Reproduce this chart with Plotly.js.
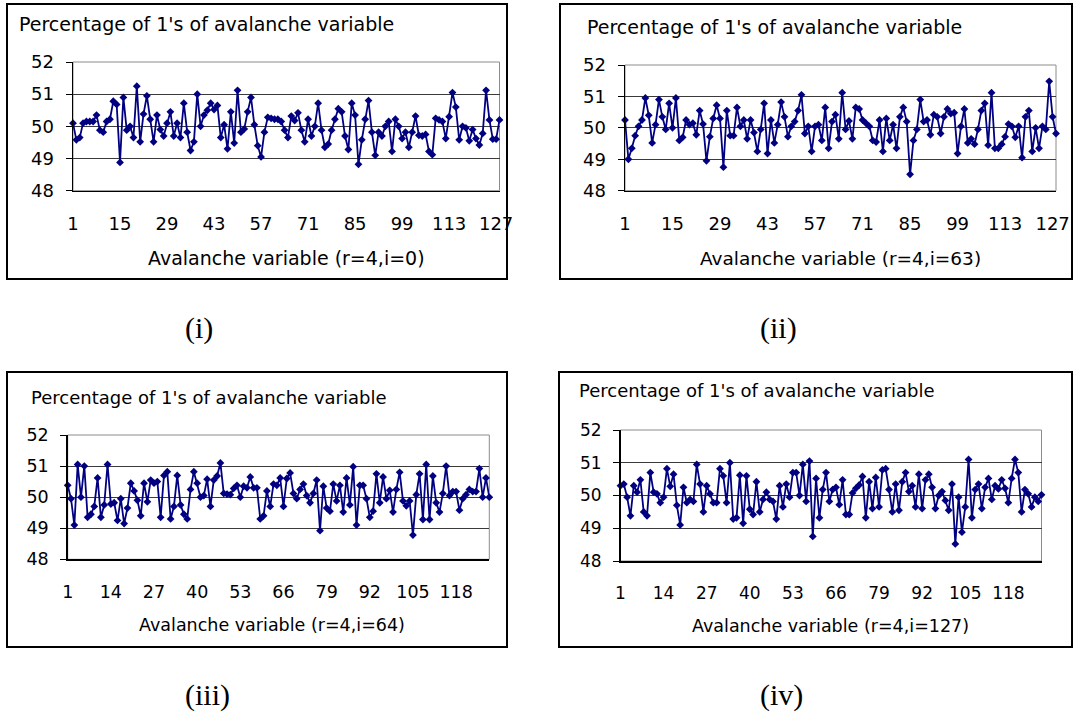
<!DOCTYPE html>
<html><head><meta charset="utf-8">
<script src="https://cdn.plot.ly/plotly-3.0.1.min.js"></script>
<style>html,body{margin:0;padding:0;background:#fff;}#chart{width:1075px;height:713px;}</style>
</head><body><div id="chart"></div>
<script>
// ---- data (percentage of 1's per avalanche variable, 128 variables each) ----
const seriesI = [50.1,49.58,49.65,50.1,50.15,50.15,50.15,50.35,49.88,49.82,
 50.15,50.22,50.78,50.68,48.88,50.9,49.88,50.0,49.65,51.25,
 49.52,50.38,50.95,50.22,49.52,50.35,49.9,49.7,50.1,50.45,
 49.7,50.1,49.65,50.72,49.82,49.25,49.52,51.0,50.0,50.35,
 50.5,50.72,50.52,50.65,49.65,50.05,49.3,50.45,49.48,51.12,
 49.82,49.92,50.45,50.9,50.05,49.4,49.05,49.82,50.28,50.25,
 50.22,50.22,50.15,49.88,49.65,50.32,50.18,50.42,49.88,49.52,
 50.22,49.7,50.0,50.72,49.88,49.35,49.45,49.88,50.22,50.55,
 50.45,49.7,49.28,50.72,50.35,48.82,49.58,50.22,50.8,49.82,
 49.1,49.82,49.7,50.0,50.15,49.22,50.22,50.0,49.62,49.82,
 49.35,49.82,50.32,49.72,49.7,49.75,49.22,49.12,50.25,50.2,
 50.15,49.62,50.3,51.05,50.6,49.58,50.0,49.95,49.55,49.9,
 49.62,49.42,49.78,51.12,50.2,49.6,49.6,50.2];
const seriesII = [50.25,49.0,49.35,49.75,50.05,50.25,50.95,50.4,49.52,50.1,
 50.9,50.35,49.95,50.78,50.0,50.95,49.6,49.7,50.25,50.1,
 50.15,49.78,50.55,50.12,48.95,49.72,50.3,50.72,50.3,48.75,
 50.55,49.75,49.75,50.65,50.05,50.25,49.65,50.25,49.85,49.25,
 49.95,50.78,49.18,50.25,49.52,50.1,50.82,50.35,49.72,50.05,
 50.2,50.55,51.05,49.82,50.05,49.25,50.05,50.1,49.6,50.65,
 49.35,50.2,50.42,49.65,51.12,49.95,50.22,49.65,50.65,50.6,
 50.25,50.15,50.05,49.6,49.55,50.25,49.25,50.3,49.6,50.1,
 49.35,50.35,50.65,50.2,48.52,49.6,49.95,50.9,50.2,50.25,
 49.78,50.42,50.35,49.82,50.35,50.6,50.45,50.48,49.18,50.05,
 50.6,49.52,49.65,49.48,49.95,50.55,50.78,49.45,51.12,49.35,
 49.35,49.48,49.72,50.12,50.05,49.7,50.05,49.05,50.35,50.55,
 49.25,50.0,49.35,50.05,49.95,51.48,50.35,49.82];
const seriesIII = [50.38,49.95,49.1,51.05,50.0,51.0,49.35,49.45,49.7,50.62,
 49.35,49.75,51.05,49.78,49.82,49.25,49.95,49.15,49.65,50.45,
 50.2,49.9,49.4,50.45,49.85,50.55,50.45,50.5,49.35,50.7,
 50.82,49.3,49.7,50.7,49.75,49.45,49.3,50.25,50.82,50.45,
 50.0,50.05,50.58,49.7,50.55,50.68,51.1,50.12,50.1,50.08,
 50.28,50.38,50.0,50.35,50.3,50.65,50.3,50.3,49.3,49.4,
 50.2,49.7,50.42,50.38,50.62,49.7,50.6,50.78,50.12,49.95,
 50.25,50.42,50.05,49.82,50.12,50.55,48.92,50.35,49.65,49.55,
 50.42,49.88,50.38,49.52,50.62,49.75,50.98,49.1,50.38,50.38,
 49.95,49.35,49.55,50.75,49.82,50.65,49.95,50.22,49.52,50.25,
 50.8,49.88,49.72,49.88,48.78,50.08,50.75,49.28,51.05,49.28,
 50.68,49.82,49.52,50.12,51.0,50.05,50.18,50.18,49.58,49.95,
 50.08,50.25,50.18,50.18,50.92,50.0,50.62,50.0];
const seriesIV = [50.3,50.35,49.95,49.38,50.3,50.1,50.48,49.5,49.38,50.7,
 50.1,50.05,49.78,49.95,50.82,50.28,50.65,49.7,49.1,50.25,
 49.78,49.88,49.82,50.95,50.35,49.5,50.3,50.05,49.78,49.78,
 50.82,50.6,49.78,51.0,49.28,49.32,50.62,49.15,50.6,49.58,
 49.42,50.42,49.5,49.88,50.1,49.88,49.82,49.28,50.3,49.65,
 50.35,49.95,50.7,50.7,50.0,50.95,49.82,51.05,48.75,50.52,
 49.32,50.18,50.7,49.82,50.18,50.25,49.72,50.48,49.42,49.42,
 50.08,50.22,50.32,50.58,49.32,50.42,49.6,50.55,49.65,50.78,
 50.82,50.18,49.5,50.35,49.55,50.42,50.7,50.12,50.3,49.65,
 50.65,49.6,50.48,50.65,50.25,49.6,50.0,50.12,49.85,49.55,
 50.35,48.52,49.95,48.88,49.65,51.1,49.32,50.18,50.35,49.6,
 50.25,50.52,49.88,50.3,50.2,50.48,50.22,49.78,50.52,51.1,
 50.7,49.5,50.18,50.05,49.65,49.95,49.82,50.02];

const tickValsA = [1,15,29,43,57,71,85,99,113,127];
const tickValsB = [1,14,27,40,53,66,79,92,105,118];
const yTickVals = [48,49,50,51,52];
const chartTitle = "Percentage of 1's of avalanche variable";
const xTitles = ["Avalanche variable (r=4,i=0)","Avalanche variable (r=4,i=63)",
                 "Avalanche variable (r=4,i=64)","Avalanche variable (r=4,i=127)"];
const panelLabels = ["(i)","(ii)","(iii)","(iv)"];

// ---- layout geometry (pixels) ----
const W = 1075, H = 713;
const fx = v => v / W, fy = v => 1 - v / H;
const geom = [
  {plot:[73,499.5,62,190.7],  frame:[7,507,4,279],    title:[17,24,19],  xt:[286,258,19],   tick:18,   lab:[199,328], ticks:tickValsA},
  {plot:[625,1056,65,190.7],  frame:[560,1072,4,279], title:[585,27,19], xt:[840,258,18.5], tick:18,   lab:[778,328], ticks:tickValsA},
  {plot:[67.7,489.3,435,559.3],frame:[7,507,372,647], title:[29,397,18], xt:[272,625,17.5], tick:17.5, lab:[207.5,695], ticks:tickValsB},
  {plot:[620.5,1041.5,430,561],frame:[559,1072,372,647],title:[577,391,18],xt:[830,626,17.5], tick:17,   lab:[781,695], ticks:tickValsB}
];
const allSeries = [seriesI, seriesII, seriesIII, seriesIV];
const FONT = "DejaVu Sans, Arial, sans-serif";
const NAVY = "#000080";

const traces = [], shapes = [], annotations = [];
const layout = {width:W, height:H, margin:{l:0,r:0,t:0,b:0}, paper_bgcolor:"#fff",
  plot_bgcolor:"#fff", showlegend:false, font:{family:FONT, color:"#000"}};

geom.forEach((g, i) => {
  const k = i + 1, xa = "x" + (k === 1 ? "" : k), ya = "y" + (k === 1 ? "" : k);
  traces.push({type:"scatter", mode:"lines+markers", y:allSeries[i], x0:1, dx:1,
    xaxis:xa, yaxis:ya, line:{color:NAVY, width:1.8},
    marker:{symbol:"diamond", size:6, color:NAVY}, cliponaxis:false, hoverinfo:"skip"});
  layout["xaxis" + (k === 1 ? "" : k)] = {domain:[fx(g.plot[0]), fx(g.plot[1])], anchor:ya,
    range:[1,128], tickvals:g.ticks, ticktext:g.ticks.map(String), ticks:"",
    showline:true, linecolor:"#000", linewidth:1.5, showgrid:false, zeroline:false,
    tickfont:{family:FONT, size:g.tick, color:"#000"}, ticklabelstandoff:16, fixedrange:true};
  layout["yaxis" + (k === 1 ? "" : k)] = {domain:[fy(g.plot[3]), fy(g.plot[2])], anchor:xa,
    range:[48,52], tickvals:yTickVals, ticktext:yTickVals.map(String), ticks:"outside",
    ticklen:6, tickcolor:"#000", tickwidth:1, showline:true, linecolor:"#000", linewidth:1.5,
    showgrid:true, gridcolor:"#3a3a3a", gridwidth:1, zeroline:false,
    tickfont:{family:FONT, size:g.tick, color:"#000"}, ticklabelstandoff:8, fixedrange:true};
  // plot-area border (grey top/right)
  shapes.push({type:"rect", xref:xa + " domain", yref:ya + " domain", x0:0, x1:1, y0:0, y1:1,
    line:{color:"#8c8c8c", width:1}, layer:"below"});
  // panel frame
  shapes.push({type:"rect", xref:"paper", yref:"paper", x0:fx(g.frame[0]), x1:fx(g.frame[1]),
    y0:fy(g.frame[3]), y1:fy(g.frame[2]), line:{color:"#000", width:2}});
  annotations.push({xref:"paper", yref:"paper", x:fx(g.title[0]), y:fy(g.title[1]),
    xanchor:"left", yanchor:"middle", showarrow:false, text:chartTitle,
    font:{family:FONT, size:g.title[2], color:"#000"}});
  annotations.push({xref:"paper", yref:"paper", x:fx(g.xt[0]), y:fy(g.xt[1]),
    xanchor:"center", yanchor:"middle", showarrow:false, text:xTitles[i],
    font:{family:FONT, size:g.xt[2], color:"#000"}});
  annotations.push({xref:"paper", yref:"paper", x:fx(g.lab[0]), y:fy(g.lab[1]),
    xanchor:"center", yanchor:"middle", showarrow:false, text:panelLabels[i],
    font:{family:"Liberation Serif, Times New Roman, serif", size:30, color:"#000"}});
});
layout.shapes = shapes;
layout.annotations = annotations;
Plotly.newPlot("chart", traces, layout, {staticPlot:true, displayModeBar:false});
</script>
</body></html>
